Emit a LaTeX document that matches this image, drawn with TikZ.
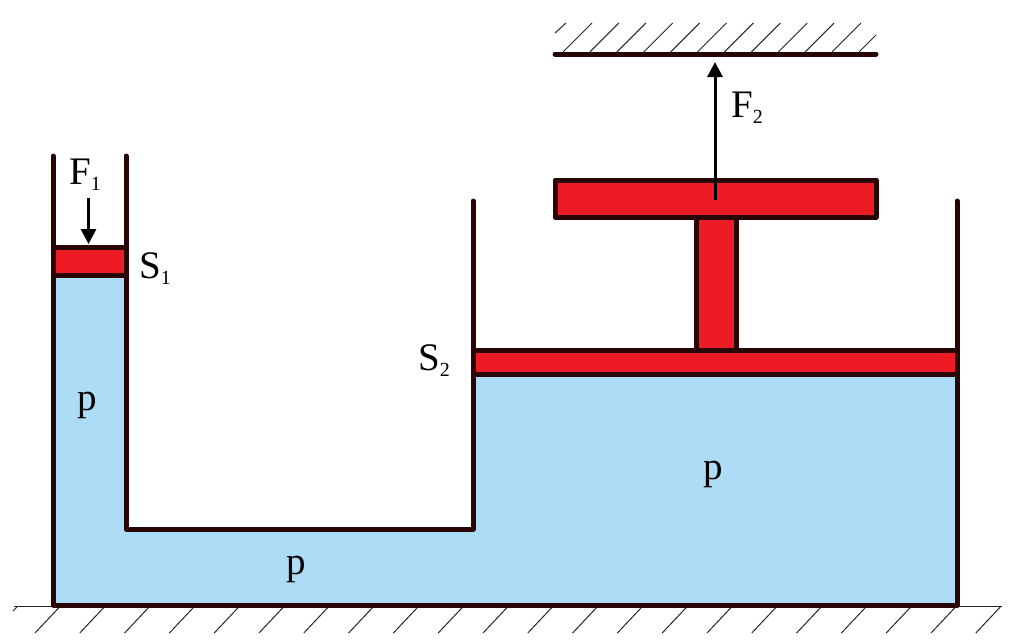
\documentclass[tikz,border=0pt]{standalone}
\usepackage{fontspec}
\setmainfont{Liberation Serif}
\usetikzlibrary{arrows.meta}
\definecolor{wallc}{HTML}{2A0505}
\definecolor{pistonc}{HTML}{ED1C24}
\definecolor{fluidc}{HTML}{ADDCF6}
\newcommand{\lbl}[2]{{\fontsize{39}{39}\selectfont #1\raisebox{-6pt}{\fontsize{20}{20}\selectfont #2}}}
\tikzset{
  wall/.style={draw=wallc,line width=5pt,line cap=round,line join=round},
  piston/.style={draw=wallc,fill=pistonc,line width=5pt,line join=round},
  hatch/.style={draw=black!85,line width=1pt},
  force/.style={draw=black,line width=3pt,-{Triangle[length=15pt,width=15pt]}},
  lab/.style={anchor=base west,inner sep=0pt,text=black},
  pres/.style={anchor=base,inner sep=0pt,font=\fontsize{39}{39}\selectfont,text=black}
}
\begin{document}
\begin{tikzpicture}[x=1pt,y=-1pt]
\useasboundingbox (0,0) rectangle (1022,641);
% fluid
\fill[fluidc] (53,275) -- (126,275) -- (126,529) -- (473,529) -- (473,374) -- (957,374) -- (957,605) -- (53,605) -- cycle;
% ground
\draw[hatch] (14,606.5) -- (1002,606.5);
\draw[hatch] (13,611) -- (17,607);
\foreach \k in {0,...,21} \draw[hatch] ({35+44.8*\k},633) -- ({59.5+44.8*\k},607);
% ceiling
\draw[hatch] (555,33) -- (566,23);
\foreach \k in {0,...,10} \draw[hatch] ({563+26.9*\k},52) -- ({592+26.9*\k},23);
\draw[hatch] (859,52) -- (876,35);
\draw[wall] (555,54) -- (876,54);
% pistons
\draw[piston] (53,247) rectangle (126,275);
\draw[piston] (696,217) rectangle (736,350);
\draw[piston] (555,180) rectangle (876,217);
\draw[piston] (473,350) rectangle (957,374);
% vessel
\draw[wall] (53,156) -- (53,605) -- (957,605) -- (957,201);
\draw[wall] (126,156) -- (126,529) -- (473,529) -- (473,201);
% labels
\node[lab] (f1) at (69,184) {\lbl{F}{1}};
\node[lab] (s1) at (139,278) {\lbl{S}{1}};
\node[lab] (f2) at (731,117) {\lbl{F}{2}};
\node[lab] (s2) at (418,370) {\lbl{S}{2}};
\node[pres] (p1) at (87,410) {p};
\node[pres] (p2) at (713,479) {p};
\node[pres] (p3) at (296,574) {p};
% forces
\coordinate (a1) at (88.5,198);
\coordinate (b1) at (88.5,244);
\coordinate (a2) at (715,200);
\coordinate (b2) at (715,62);
\draw[force] (a1) -- (b1);
\draw[force] (a2) -- (b2);
\end{tikzpicture}
\end{document}
